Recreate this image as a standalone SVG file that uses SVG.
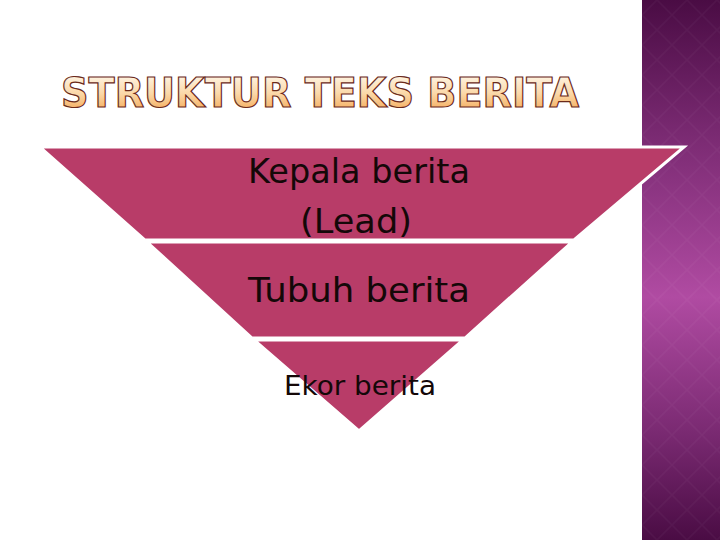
<svg xmlns="http://www.w3.org/2000/svg" width="720" height="540" viewBox="0 0 720 540">
<defs>
<linearGradient id="side" x1="0" y1="0" x2="0" y2="1">
<stop offset="0" stop-color="#4a0c44"/>
<stop offset="0.25" stop-color="#7a2a72"/>
<stop offset="0.55" stop-color="#b04ba2"/>
<stop offset="0.8" stop-color="#7a2a72"/>
<stop offset="1" stop-color="#4a0c44"/>
</linearGradient>
<pattern id="dia" width="30" height="30" patternUnits="userSpaceOnUse" x="642" y="0">
<path d="M15 0 L30 15 L15 30 L0 15 Z" fill="none" stroke="#ffffff" stroke-opacity="0.03" stroke-width="1.5"/>
</pattern>
<linearGradient id="title" x1="0" y1="0" x2="0" y2="1">
<stop offset="0" stop-color="#fffcf4"/>
<stop offset="0.5" stop-color="#fbd9aa"/>
<stop offset="1" stop-color="#f3a048"/>
</linearGradient>
<style>
.band{fill:#b83c68;stroke:#ffffff;stroke-width:3;stroke-linejoin:miter}
.lbl{font-family:"DejaVu Sans",Verdana,sans-serif;fill:#140808;text-anchor:middle}
</style>
</defs>
<rect width="720" height="540" fill="#ffffff"/>
<g id="sidebar">
<rect x="642" y="0" width="78" height="540" fill="url(#side)"/>
<rect x="642" y="0" width="78" height="540" fill="url(#dia)"/>
</g>
<g id="title-text">
<text x="320" y="107" text-anchor="middle" font-family="'DejaVu Sans',Verdana,sans-serif" font-weight="bold" font-size="40" textLength="518" lengthAdjust="spacingAndGlyphs" fill="url(#title)" stroke="#6b2a1a" stroke-width="1.2">STRUKTUR TEKS BERITA</text>
</g>
<g id="kepala">
<polygon class="band" points="40,147 684,147 574,240 145,240"/>
<text class="lbl" x="359" y="183" font-size="33" textLength="222" lengthAdjust="spacingAndGlyphs">Kepala berita</text>
<text class="lbl" x="356" y="233" font-size="33" textLength="112" lengthAdjust="spacingAndGlyphs">(Lead)</text>
</g>
<g id="tubuh">
<polygon class="band" points="147,242 572,242 465,338 252,338"/>
<text class="lbl" x="359" y="302" font-size="33" textLength="222" lengthAdjust="spacingAndGlyphs">Tubuh berita</text>
</g>
<g id="ekor">
<polygon class="band" points="254,340 463,340 359,431"/>
<text class="lbl" x="360" y="395" font-size="27" textLength="152" lengthAdjust="spacingAndGlyphs">Ekor berita</text>
</g>
</svg>
